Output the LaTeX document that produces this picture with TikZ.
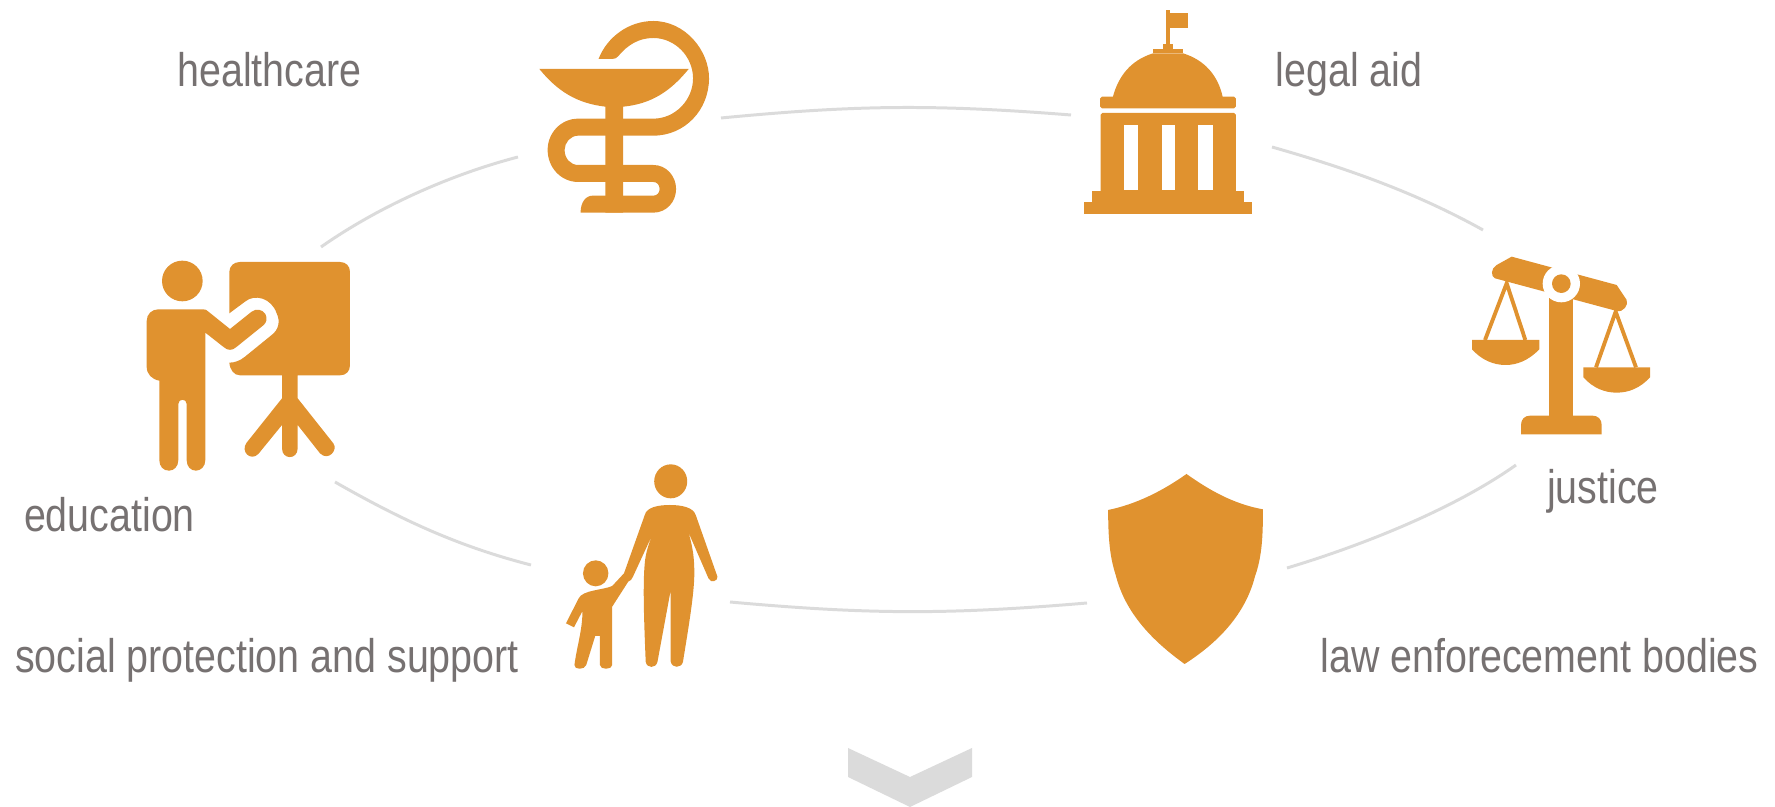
\documentclass[tikz,border=0pt]{standalone}
\usepackage{fontspec}
\setmainfont{Liberation Sans}[FakeStretch=0.836]
\definecolor{iconorange}{HTML}{E0922F}
\definecolor{textgrey}{HTML}{767171}
\definecolor{ringgrey}{HTML}{DBDBDB}
\tikzset{
  icon/.style={fill=iconorange,draw=none},
  hole/.style={fill=white,draw=none},
  ringarc/.style={draw=ringgrey,line width=0.85pt},
  itemlabel/.style={text=textgrey,font=\fontsize{13.4}{16}\selectfont,inner sep=0pt,anchor=base}
}
\begin{document}
\begin{tikzpicture}[x=0.01cm,y=-0.01cm]
\useasboundingbox (0,0) rectangle (1775,807);
\coordinate (edA) at (321,247);
\coordinate (heA) at (518,157);
\coordinate (heB) at (721,118);
\coordinate (leA) at (1071,115);
\coordinate (leB) at (1272,147);
\coordinate (juA) at (1483,230);
\coordinate (juB) at (1516,465);
\coordinate (laA) at (1287,568);
\coordinate (laB) at (1087,603);
\coordinate (soA) at (730,602);
\coordinate (soB) at (531,565);
\coordinate (edB) at (335,482);
\draw[ringarc] (edA) .. controls (381,205) and (453,174) .. (heA);
\draw[ringarc] (heB) to[bend left=5] (leA);
\draw[ringarc] (leB) .. controls (1342,167) and (1413,191) .. (juA);
\draw[ringarc] (juB) .. controls (1451,511) and (1357,547) .. (laA);
\draw[ringarc] (laB) to[bend left=5] (soA);
\draw[ringarc] (soB) .. controls (461,547) and (405,522) .. (edB);
\node[itemlabel] (healthcare) at (269.5,87) {healthcare};
\node[itemlabel] (legalaid) at (1349,87) {legal aid};
\node[itemlabel] (justice) at (1603,504) {justice};
\node[itemlabel] (education) at (109.5,532) {education};
\node[itemlabel] (social) at (267,673) {social protection and support};
\node[itemlabel] (lawbodies) at (1539.5,673) {law enforecement bodies};
\begin{scope}[shift={(520,0)},xscale=1/2.063,yscale=1/3]
\fill[icon] (162,177) .. controls (180,110) and (225,63) .. (275,63)
  .. controls (340,63) and (390,150) .. (390,235)
  .. controls (390,330) and (340,407) .. (275,407) -- (120,407)
  .. controls (104,407) and (92,428) .. (92,450)
  .. controls (92,475) and (104,495) .. (120,495) -- (275,495)
  .. controls (302,495) and (322,528) .. (322,567)
  .. controls (322,606) and (302,638) .. (275,638) -- (125,638)
  .. controls (125,608) and (135,587) .. (150,587) -- (275,587)
  .. controls (283,587) and (288,578) .. (288,567)
  .. controls (288,555) and (283,546) .. (275,546) -- (120,546)
  .. controls (85,546) and (57,503) .. (57,450)
  .. controls (57,398) and (85,356) .. (120,356) -- (275,356)
  .. controls (320,356) and (357,300) .. (357,235)
  .. controls (357,170) and (320,114) .. (275,114)
  .. controls (245,114) and (222,135) .. (203,168)
  .. controls (200,174) and (196,177) .. (190,177) -- cycle;
\fill[icon] (40,207) -- (348,207) .. controls (310,275) and (270,312) .. (213,320)
  -- (213,638) -- (176,638) -- (176,320)
  .. controls (118,310) and (78,275) .. (40,207) -- cycle;
\fill[icon] (1333,30) rectangle (1340,135);
\fill[icon] (1340,40) rectangle (1379,85);
\fill[icon] (1327,133) rectangle (1348,147);
\fill[icon] (1306,147) rectangle (1368,160);
\fill[icon] (1223,292) .. controls (1235,225) and (1262,180) .. (1306,160)
  -- (1368,160) .. controls (1412,180) and (1440,225) .. (1450,292) -- cycle;
\fill[icon,rounded corners=0.5pt] (1197,290) rectangle (1477,325);
\fill[icon,rounded corners=0.5pt] (1198,339) rectangle (1477,580);
\fill[hole] (1246,375) rectangle (1275,571);
\fill[hole] (1324,375) rectangle (1352,571);
\fill[hole] (1399,375) rectangle (1429,571);
\fill[icon] (1181,572) rectangle (1494,610);
\fill[icon] (1164,606) rectangle (1510,642);
\end{scope}
\begin{scope}[shift={(130,250)},scale=1/3]
\fill[icon] (157,93) circle (61);
\fill[icon] (85,178) -- (220,178) .. controls (226,178) and (230,180) .. (234,184)
  -- (300,237) -- (365,185) .. controls (378,175) and (398,178) .. (406,192)
  .. controls (413,205) and (410,218) .. (400,226)
  -- (318,292) .. controls (308,302) and (292,302) .. (282,292)
  -- (226,248) -- (226,630) .. controls (226,650) and (212,662) .. (198,662)
  .. controls (182,662) and (170,650) .. (170,630) -- (170,462)
  .. controls (170,445) and (145,445) .. (145,462) -- (145,630)
  .. controls (145,650) and (132,662) .. (117,662)
  .. controls (100,662) and (88,650) .. (88,630) -- (88,392)
  .. controls (65,388) and (50,372) .. (50,350) -- (50,213)
  .. controls (50,192) and (66,178) .. (85,178) -- cycle;
\fill[icon] (330,36) -- (630,36) .. controls (648,36) and (660,48) .. (660,66)
  -- (660,346) .. controls (660,364) and (648,376) .. (630,376)
  -- (503,376) -- (503,445) -- (610,580)
  .. controls (625,600) and (595,635) .. (570,610)
  -- (503,525) -- (503,595) .. controls (503,630) and (456,630) .. (456,595)
  -- (456,525) -- (385,612) .. controls (362,635) and (330,605) .. (350,578)
  -- (456,445) -- (456,376) -- (330,376)
  .. controls (312,376) and (300,360) .. (298,338)
  .. controls (315,338) and (330,332) .. (345,320) -- (425,255)
  .. controls (445,240) and (452,215) .. (440,190)
  .. controls (425,145) and (375,130) .. (345,155) -- (298,190) -- (298,66)
  .. controls (298,48) and (312,36) .. (330,36) -- cycle;
\end{scope}
\begin{scope}[shift={(1450,240)},scale=1/3]
\fill[icon] (213,583) -- (213,555) .. controls (213,538) and (224,527) .. (240,527)
  -- (428,527) .. controls (444,527) and (455,538) .. (455,555) -- (455,583) -- cycle;
\fill[icon] (185,50) -- (500,135) -- (530,180)
  .. controls (536,195) and (520,218) .. (500,213)
  -- (135,115) .. controls (122,110) and (122,85) .. (140,75) -- cycle;
\fill[icon] (297,140) rectangle (370,560);
\fill[hole] (334,131) circle (56);
\fill[icon] (334,131) circle (28);
\draw[iconorange,line width=1.1pt] (105,300) -- (170,130) -- (226,300);
\fill[icon] (66,300) -- (268,300) -- (268,328)
  .. controls (235,362) and (200,375) .. (167,375)
  .. controls (130,375) and (95,360) .. (66,328) -- cycle;
\draw[iconorange,line width=1.1pt] (438,382) -- (497,215) -- (558,382);
\fill[icon] (400,382) -- (600,382) -- (600,412)
  .. controls (570,445) and (535,458) .. (500,458)
  .. controls (465,458) and (430,445) .. (400,412) -- cycle;
\end{scope}
\begin{scope}[shift={(540,450)},xscale=1/2.119,yscale=1/3]
\fill[icon] (277,94) ellipse (35 and 51);
\fill[icon] (118,370) ellipse (27 and 39);
\fill[icon] (275,165) .. controls (300,165) and (325,172) .. (330,195)
  -- (376,380) .. controls (378,392) and (362,402) .. (357,385)
  -- (314,245) .. controls (325,295) and (327,330) .. (327,370)
  .. controls (327,430) and (315,530) .. (303,635)
  .. controls (300,655) and (280,656) .. (277,635) -- (277,420) -- (249,635)
  .. controls (246,656) and (226,656) .. (224,635)
  .. controls (220,500) and (218,400) .. (222,340)
  .. controls (224,305) and (232,275) .. (241,245)
  -- (197,380) .. controls (195,388) and (192,392) .. (187,395)
  -- (153,470) -- (153,645) .. controls (153,660) and (127,660) .. (127,645)
  -- (127,558) -- (117,558) -- (98,645) .. controls (95,660) and (72,660) .. (73,645)
  .. controls (78,590) and (90,540) .. (90,483) -- (72,532) -- (55,520) -- (82,445)
  .. controls (90,420) and (135,420) .. (153,408) -- (178,370) -- (222,195)
  .. controls (226,172) and (250,165) .. (275,165) -- cycle;
\fill[icon] (1370,72) .. controls (1420,122) and (1470,162) .. (1532,178)
  .. controls (1532,260) and (1530,320) .. (1515,380)
  .. controls (1495,490) and (1440,575) .. (1366,642)
  .. controls (1300,575) and (1240,490) .. (1220,375)
  .. controls (1207,320) and (1204,260) .. (1204,180)
  .. controls (1265,162) and (1320,122) .. (1370,72) -- cycle;
\end{scope}
\fill[ringgrey] (848,748) -- (910,777) -- (972,748) -- (972,777) -- (910,807) -- (848,777) -- cycle;
\end{tikzpicture}
\end{document}
